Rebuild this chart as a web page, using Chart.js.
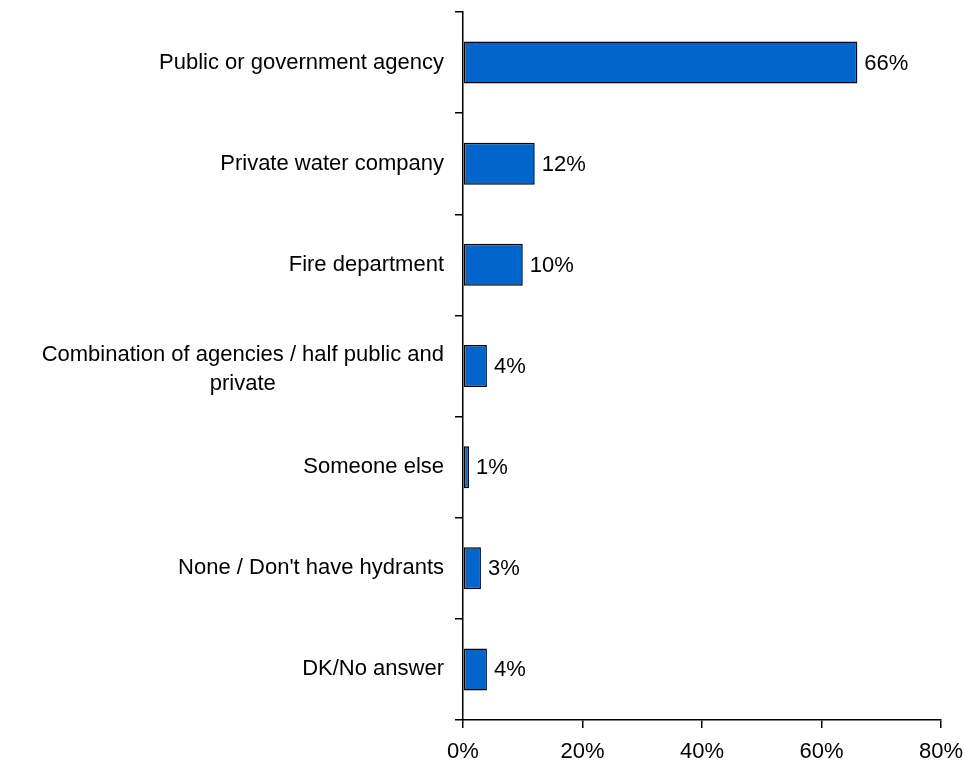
<!DOCTYPE html>
<html>
<head>
<meta charset="utf-8">
<script src="https://cdn.jsdelivr.net/npm/chart.js@4.4.1/dist/chart.umd.min.js"></script>
<style>
  html, body { margin: 0; padding: 0; background: #fff; }
  #wrap { width: 965px; height: 767px; }
</style>
</head>
<body>
<div id="wrap"><canvas id="c" width="965" height="767"></canvas></div>
<script>
// Who maintains the hydrants (share of responses)
const categories = [
  ["Public or government agency"],
  ["Private water company"],
  ["Fire department"],
  ["Combination of agencies / half public and", "private"],
  ["Someone else"],
  ["None / Don't have hydrants"],
  ["DK/No answer"]
];
const shares = [66, 12, 10, 4, 1, 3, 4];
const xTicks = [0, 20, 40, 60, 80];

const FONT = "'Liberation Sans', Arial, Helvetica, sans-serif";
const FONT_SIZE = 22;

// Category names drawn to the left of the axis; wrapped names are centred line by line
const categoryLabels = {
  id: 'categoryLabels',
  afterDraw(chart) {
    const ctx = chart.ctx;
    const y = chart.scales.y;
    const rightEdge = y.right - 19;
    ctx.save();
    ctx.font = FONT_SIZE + 'px ' + FONT;
    ctx.fillStyle = '#000';
    ctx.textBaseline = 'middle';
    const lh = 29;
    categories.forEach((lines, i) => {
      const cy = y.getPixelForValue(i);
      const widths = lines.map(l => ctx.measureText(l).width);
      const maxW = Math.max(...widths);
      const center = rightEdge - maxW / 2;
      const top = cy - (lines.length - 1) * lh / 2 + (lines.length > 1 ? 3 : 0);
      lines.forEach((l, k) => {
        ctx.textAlign = lines.length > 1 ? 'center' : 'right';
        const x = lines.length > 1 ? center : rightEdge;
        ctx.fillText(l, x, top + k * lh);
      });
    });
    ctx.restore();
  }
};

// Percentage printed just past the end of each bar
const valueLabels = {
  id: 'valueLabels',
  afterDatasetsDraw(chart) {
    const ctx = chart.ctx;
    const meta = chart.getDatasetMeta(0);
    ctx.save();
    ctx.font = FONT_SIZE + 'px ' + FONT;
    ctx.fillStyle = '#000';
    ctx.textAlign = 'left';
    ctx.textBaseline = 'middle';
    meta.data.forEach((bar, i) => {
      ctx.fillText(shares[i] + '%', bar.x + 7, bar.y + 1);
    });
    ctx.restore();
  }
};

new Chart(document.getElementById('c'), {
  type: 'bar',
  data: {
    labels: categories.map(l => l.join(' ')),
    datasets: [{
      data: shares,
      backgroundColor: '#0066CC',
      borderColor: '#000000',
      borderWidth: 1.5,
      borderSkipped: false,
      barPercentage: 0.415,
      categoryPercentage: 1
    }]
  },
  options: {
    indexAxis: 'y',
    responsive: false,
    animation: false,
    devicePixelRatio: 1,
    layout: { padding: { top: 12, right: 24, bottom: 0, left: 0 } },
    plugins: {
      legend: { display: false },
      tooltip: { enabled: false }
    },
    scales: {
      x: {
        min: 0,
        max: 80,
        afterBuildTicks(scale) {
          scale.ticks = xTicks.map(v => ({ value: v }));
        },
        afterFit(scale) {
          scale.height = 47;
          scale.paddingLeft = 0;
          scale.paddingRight = 0;
        },
        ticks: {
          callback: v => v + '%',
          color: '#000',
          font: { family: FONT, size: FONT_SIZE },
          padding: 11,
          maxRotation: 0,
          autoSkip: false
        },
        grid: {
          drawOnChartArea: false,
          drawTicks: true,
          tickLength: 8,
          color: '#000',
          lineWidth: 1.5
        },
        border: { display: true, color: '#000', width: 1.5 }
      },
      y: {
        afterFit(scale) {
          scale.width = 463;
          scale.paddingTop = 0;
          scale.paddingBottom = 0;
        },
        ticks: { display: false },
        grid: {
          offset: true,
          drawOnChartArea: false,
          drawTicks: true,
          tickLength: 8,
          color: '#000',
          lineWidth: 1.5
        },
        border: { display: true, color: '#000', width: 1.5 }
      }
    }
  },
  plugins: [categoryLabels, valueLabels]
});
</script>
</body>
</html>
